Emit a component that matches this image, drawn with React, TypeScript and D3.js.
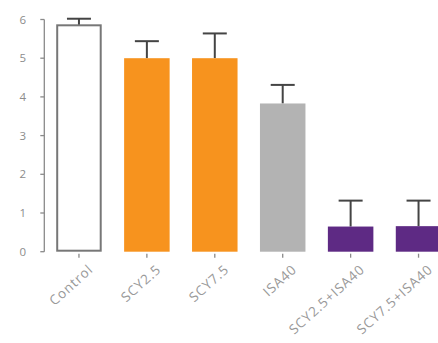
import React from "react";
import * as d3 from "d3";

const categories = ["Control", "SCY2.5", "SCY7.5", "ISA40", "SCY2.5+ISA40", "SCY7.5+ISA40"];
const means = [5.85, 5.0, 5.0, 3.83, 0.65, 0.66];
const errors = [0.17, 0.44, 0.64, 0.48, 0.67, 0.66];
const fills = ["#ffffff", "#f7931e", "#f7931e", "#b3b3b3", "#5e2a84", "#5e2a84"];
const yTicks = [0, 1, 2, 3, 4, 5, 6];

const W = 438;
const H = 343;

export default function App() {
  const y = d3.scaleLinear().domain([0, 6]).range([251.7, 19.5]);
  const x = d3.scaleBand<string>().domain(categories).range([45, 452.5]).paddingInner(0.33).paddingOuter(0.165);
  const bw = x.bandwidth();
  const axisX = 44.3;
  const font = "'Open Sans', 'Noto Sans', sans-serif";
  return (
    <svg width={W} height={H} style={{ position: "absolute", left: 0, top: 0, background: "#fff" }}>
      {/* y axis */}
      <line x1={axisX} x2={axisX} y1={y(6)} y2={y(0)} stroke="#8a8a8a" strokeWidth={1.3} />
      {yTicks.map((t) => (
        <g key={t}>
          <line x1={axisX - 4} x2={axisX} y1={y(t)} y2={y(t)} stroke="#8a8a8a" strokeWidth={1.3} />
          <text x={axisX - 21.5} y={y(t)} dy="0.35em" textAnchor="middle" fontSize={11.5} fill="#8c8c8c" fontFamily={font}>
            {t}
          </text>
        </g>
      ))}
      {/* bars */}
      {categories.map((c, i) => {
        const x0 = x(c)!;
        const cx = x0 + bw / 2;
        const isCtrl = i === 0;
        return (
          <g key={c}>
            <line x1={cx} x2={cx} y1={y(means[i])} y2={y(means[i] + errors[i])} stroke="#444" strokeWidth={2} />
            <line x1={cx - 12} x2={cx + 12} y1={y(means[i] + errors[i])} y2={y(means[i] + errors[i])} stroke="#444" strokeWidth={2} />
            <rect
              x={isCtrl ? x0 + 1 : x0}
              y={y(means[i])}
              width={isCtrl ? bw - 2 : bw}
              height={isCtrl ? y(0) - y(means[i]) - 1 : y(0) - y(means[i])}
              fill={fills[i]}
              stroke={isCtrl ? "#777" : "none"}
              strokeWidth={isCtrl ? 2 : 0}
            />
            <line x1={cx} x2={cx} y1={y(0) + 2} y2={y(0) + 6} stroke="#8a8a8a" strokeWidth={1.3} />
            <text
              transform={`translate(${cx + 15},${y(0) + 19}) rotate(-42)`}
              textAnchor="end"
              fontSize={13.5}
              letterSpacing={0.9}
              fill="#999"
              fontFamily={font}
            >
              {c}
            </text>
          </g>
        );
      })}
    </svg>
  );
}
